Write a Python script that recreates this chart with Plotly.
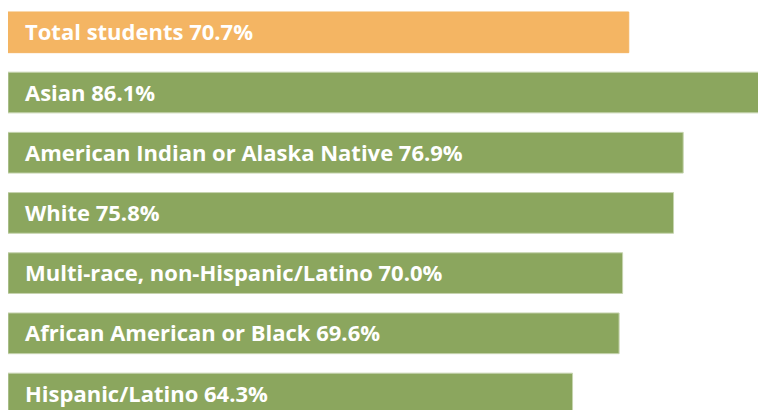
import plotly.graph_objects as go

categories = ["Total students", "Asian", "American Indian or Alaska Native", "White",
              "Multi-race, non-Hispanic/Latino", "African American or Black", "Hispanic/Latino"]
values = [70.7, 86.1, 76.9, 75.8, 70.0, 69.6, 64.3]
colors = ["#F4B563", "#8BA65E", "#8BA65E", "#8BA65E", "#8BA65E", "#8BA65E", "#8BA65E"]
edge_colors = ["#F4B563", "#C6D4AF", "#C6D4AF", "#C6D4AF", "#C6D4AF", "#C6D4AF", "#C6D4AF"]

pos = list(range(len(categories)))
labels = [f"{c} {v:.1f}%" for c, v in zip(categories, values)]

fig = go.Figure(go.Bar(
    x=values, y=pos, orientation="h",
    marker=dict(color=colors, line=dict(color=edge_colors, width=1)),
    width=0.676, hoverinfo="skip",
))

for p, lab in zip(pos, labels):
    fig.add_annotation(x=0, y=p, xref="x", yref="y", text=f"<b>{lab}</b>",
                       showarrow=False, xanchor="left", yanchor="middle", xshift=15, yshift=1,
                       font=dict(family="Open Sans", size=22, color="white"))

fig.update_layout(
    width=758, height=410,
    margin=dict(l=8, r=0, t=0, b=0),
    paper_bgcolor="white", plot_bgcolor="white",
    showlegend=False,
    xaxis=dict(range=[0, 85.42], visible=False, fixedrange=True),
    yaxis=dict(range=[6.274, -0.537], visible=False, fixedrange=True),
    bargap=0,
)
fig.write_html("out.html",
               config={"displayModeBar": False, "staticPlot": True},
               post_script="document.body.style.margin='0';document.body.style.overflow='hidden';")
